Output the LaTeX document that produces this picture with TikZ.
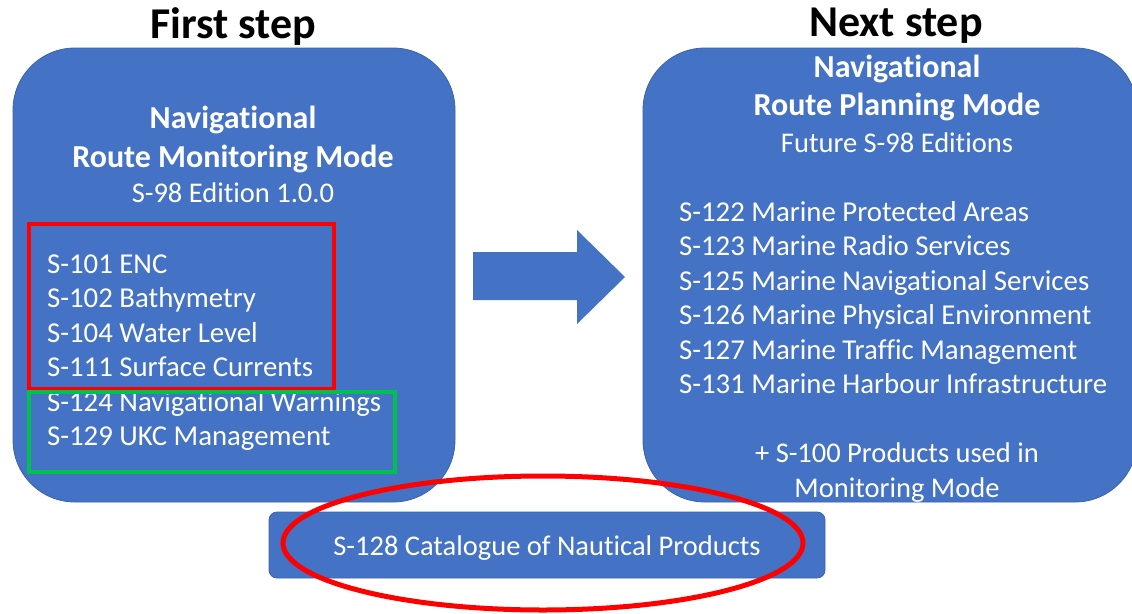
\documentclass[tikz,border=0pt]{standalone}
\usepackage{fontspec}
\setmainfont{Carlito}[Ligatures=NoCommon]
\usepackage{xcolor}
\usetikzlibrary{shapes.geometric, positioning}
\definecolor{panelblue}{HTML}{4472C4}
\definecolor{paneledge}{HTML}{3A62AA}
\definecolor{markred}{HTML}{FF0000}
\definecolor{markgreen}{HTML}{00C050}

\begin{document}
\begin{tikzpicture}[x=1pt, y=-1pt,
    panel/.style={rectangle, rounded corners=62pt, fill=panelblue, draw=paneledge, line width=0.8pt},
    heading/.style={anchor=base, font=\fontsize{44}{48}\selectfont\bfseries, text=black},
    ttl/.style={anchor=base, font=\fontsize{32}{38}\selectfont\bfseries, text=white},
    sub/.style={anchor=base, font=\fontsize{28.5}{34}\selectfont, text=white},
    item/.style={anchor=base west, inner sep=0pt, font=\fontsize{28.8}{34}\selectfont, text=white}
]
\useasboundingbox (0,0) rectangle (1132,613);

% Panels
\node[panel, minimum width=442pt, minimum height=454pt] (first) at (234,275) {};
\node[panel, minimum width=494pt, minimum height=454pt] (next) at (890,275) {};
\node[rectangle, rounded corners=8pt, fill=panelblue, draw=paneledge, line width=0.8pt,
      minimum width=556pt, minimum height=66pt] (cat) at (547,545) {};

% Headings
\node[heading] (hfirst) at (233,38) {First step};
\node[heading] (hnext) at (896,36) {Next step};

% First step text
\node[ttl] (ftitle1) at (233,128) {Navigational};
\node[ttl] (ftitle2) at (233,167) {Route Monitoring Mode};
\node[sub] (fsub) at (233,202) {S-98 Edition 1.0.0};
\node[item] (s101) at (47,273) {S-101 ENC};
\node[item] (s102) at (47,307.5) {S-102 Bathymetry};
\node[item] (s104) at (47,342) {S-104 Water Level};
\node[item] (s111) at (47,376.5) {S-111 Surface Currents};
\node[item] (s124) at (47,411) {S-124 Navigational Warnings};
\node[item] (s129) at (47,445.5) {S-129 UKC Management};

% Next step text
\node[ttl] (ntitle1) at (897,77) {Navigational};
\node[ttl] (ntitle2) at (897,115) {Route Planning Mode};
\node[sub] (nsub) at (897,152) {Future S-98 Editions};
\node[item] (s122) at (679,221) {S-122 Marine Protected Areas};
\node[item] (s123) at (679,255.5) {S-123 Marine Radio Services};
\node[item] (s125) at (679,290) {S-125 Marine Navigational Services};
\node[item] (s126) at (679,324.5) {S-126 Marine Physical Environment};
\node[item] (s127) at (679,359) {S-127 Marine Traffic Management};
\node[item] (s131) at (679,393.5) {S-131 Marine Harbour Infrastructure};
\node[sub] (plus1) at (897,462) {+ S-100 Products used in};
\node[sub] (plus2) at (897,497) {Monitoring Mode};

% Catalogue
\node[sub] (s128) at (547,555) {S-128 Catalogue of Nautical Products};

% Block arrow
\fill[panelblue] (473,252) -- (577,252) -- (577,230) -- (625,277) -- (577,324)
    -- (577,300) -- (473,300) -- cycle;

% Highlight marks
\draw[markred, line width=4.5pt] (29,224) rectangle (334,389);
\draw[markgreen, line width=4.5pt] (29,392) rectangle (395,472);
\node[ellipse, draw=markred, line width=5pt, minimum width=520pt, minimum height=134pt] (ring) at (543,543) {};

\end{tikzpicture}
\end{document}
